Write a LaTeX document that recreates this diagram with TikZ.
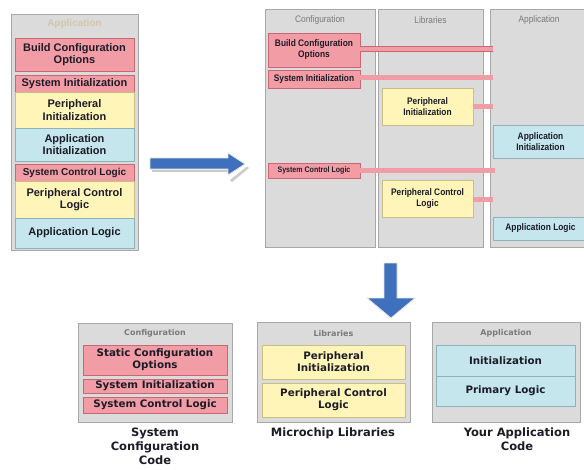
\documentclass[tikz,border=0pt]{standalone}
\usepackage{fontspec}
\setmainfont{Liberation Sans}
\newfontfamily\narrowf[FakeStretch=0.88]{Liberation Sans}
\newfontfamily\dejavu{DejaVu Sans}
\usetikzlibrary{calc}
\definecolor{pinkF}{HTML}{F29CA5}
\definecolor{pinkD}{HTML}{C86876}
\definecolor{yelF}{HTML}{FFF5B8}
\definecolor{yelD}{HTML}{C9BF85}
\definecolor{bluF}{HTML}{C4E6EC}
\definecolor{bluD}{HTML}{8DB3BA}
\definecolor{panF}{HTML}{DBDBDB}
\definecolor{panD}{HTML}{A8A8A8}
\definecolor{txt}{HTML}{1C1C28}
\definecolor{ttl}{HTML}{7A7A7A}
\definecolor{tan}{HTML}{D2C7A6}
\definecolor{arrB}{HTML}{3F70BE}
\newcommand\bx[7]{\node[#1, minimum width=#5pt, minimum height=#6pt] (#2) at (#3,#4) {#7};}
\tikzset{
 box/.style={anchor=north west, inner sep=0pt, outer sep=0pt, align=center, text=txt, line width=0.6pt},
 pinkbox/.style={box, fill=pinkF, draw=pinkD},
 yelbox/.style={box, fill=yelF, draw=yelD},
 blubox/.style={box, fill=bluF, draw=bluD},
 panel/.style={box, fill=panF, draw=panD, line width=0.7pt},
 fl/.style={font=\bfseries\fontsize{11}{12.5}\selectfont},
 fls/.style={font=\bfseries\fontsize{10}{11}\selectfont},
 fr/.style={font=\narrowf\bfseries\fontsize{9.5}{11}\selectfont},
 frs/.style={font=\narrowf\bfseries\fontsize{8}{9}\selectfont},
 fb/.style={font=\dejavu\bfseries\fontsize{10.3}{12}\selectfont},
 rtitle/.style={text=ttl, font=\narrowf\fontsize{9.5}{11}\selectfont, inner sep=0pt},
 btitle/.style={text=ttl, font=\dejavu\bfseries\fontsize{8}{9}\selectfont, inner sep=0pt},
 blabel/.style={text=txt, align=center, anchor=north, inner sep=0pt, font=\dejavu\bfseries\fontsize{11.5}{14}\selectfont},
 conn/.style={draw=pinkD, line width=0.5pt, double=pinkF, double distance=4.5pt},
 bigarrow/.style={fill=arrB, draw=white!80!gray, line width=0.8pt},
 arrowshadow/.style={fill=gray!40},
}
\begin{document}
\begin{tikzpicture}[x=1pt,y=-1pt]
\useasboundingbox (0,0) rectangle (584,469);
% ---------- left panel ----------
\bx{panel}{pL}{11}{14}{127}{236}{}
\node[text=tan, font=\bfseries\fontsize{10}{11}\selectfont, inner sep=0pt] (tL) at (74.5,24) {Application};
\bx{pinkbox,fl}{lbco}{15}{38}{119}{33}{Build Configuration\\Options}
\bx{pinkbox,fl}{lsi}{15}{75}{119}{17}{System Initialization}
\bx{yelbox,fl}{lpi}{15}{92}{119}{36}{Peripheral\\Initialization}
\bx{blubox,fl}{lai}{15}{128}{119}{33}{Application\\Initialization}
\bx{pinkbox,fls}{lscl}{15}{164}{119}{17}{System Control Logic}
\bx{yelbox,fl}{lpcl}{15}{181}{119}{37}{Peripheral Control\\Logic}
\bx{blubox,fl}{lal}{15}{218}{119}{30}{Application Logic}
% ---------- right arrow ----------
\coordinate (arRs) at (150,163.5);
\coordinate (arRt) at (245,164);
\fill[arrowshadow] (152,170) -- (228,170) -- (228,172) -- (152,172) -- cycle;
\fill[arrowshadow] (230,180) -- (247,166.5) -- (249,168) -- (232,182) -- cycle;
\path[bigarrow] (arRs |- 0,158) -- (228,158) -- (228,153) -- (arRt) -- (228,175) -- (228,169) -- (arRs |- 0,169) -- cycle;
% ---------- top right columns ----------
\bx{panel}{colC}{265}{9}{110}{238}{}
\bx{panel}{colL}{378}{9}{105}{238}{}
\bx{panel}{colA}{490}{9}{100}{238}{}
\node[rtitle] (tC) at (320,20) {Configuration};
\node[rtitle] (tLb) at (430.5,20) {Libraries};
\node[rtitle] (tA) at (539,20) {Application};
\bx{pinkbox,fr}{rbco}{268}{33}{92}{34}{Build Configuration\\Options}
\bx{pinkbox,fr}{rsi}{268}{70}{92}{18}{System Initialization}
\bx{yelbox,fr}{rpi}{382}{88}{91}{37}{Peripheral\\Initialization}
\bx{blubox,fr}{rai}{493}{125}{95}{33}{Application\\Initialization}
\bx{pinkbox,frs}{rscl}{268}{163}{92}{15}{System Control Logic}
\bx{yelbox,fr}{rpcl}{382}{180}{91}{37}{Peripheral Control\\Logic}
\bx{blubox,fr}{ral}{493}{217}{95}{23}{Application Logic}
\coordinate (aW) at (493,0);
\draw[conn] (aW |- 0,49) -- (rbco.east |- 0,49);
\draw[conn] (aW |- 0,77.5) -- (rsi.east |- 0,77.5);
\draw[conn] (aW |- rpi.east) -- (rpi.east);
\draw[conn] ($(aW |- rscl.east)+(2,0)$) -- (rscl.east);
\draw[conn] (aW |- 0,199.5) -- (rpcl.east |- 0,199.5);
% ---------- down arrow ----------
\coordinate (arDs) at (390.5,263);
\coordinate (arDt) at (391,318);
\path[bigarrow] (384,0 |- arDs) -- (397,0 |- arDs) -- (397,298) -- (415,298) -- (arDt) -- (367,298) -- (384,298) -- cycle;
% ---------- bottom panels ----------
\bx{panel}{bC}{78}{323}{154}{99}{}
\bx{panel}{bL}{257}{322}{153}{100}{}
\bx{panel}{bA}{432}{322}{148}{100}{}
\node[btitle] (tbC) at (155,333.5) {Configuration};
\node[btitle] (tbL) at (333.5,333.5) {Libraries};
\node[btitle] (tbA) at (506,333.5) {Application};
\bx{pinkbox,fb}{bsco}{83}{345}{144}{30}{Static Configuration\\Options}
\bx{pinkbox,fb}{bsi}{83}{379}{144}{14}{System Initialization}
\bx{pinkbox,fb}{bscl}{83}{397}{144}{16}{System Control Logic}
\bx{yelbox,fb}{bpi}{262}{345}{143}{34}{Peripheral\\Initialization}
\bx{yelbox,fb}{bpcl}{262}{383}{143}{34}{Peripheral Control\\Logic}
\bx{blubox,fb}{bin}{436}{345}{139}{31}{Initialization}
\bx{blubox,fb}{bpl}{436}{376}{139}{30}{Primary Logic}
\node[blabel] (lbC) at (155,428) {System\\Configuration\\Code};
\node[blabel] (lbL) at (333,428) {Microchip Libraries};
\node[blabel] (lbA) at (517,428) {Your Application\\Code};
\end{tikzpicture}
\end{document}
